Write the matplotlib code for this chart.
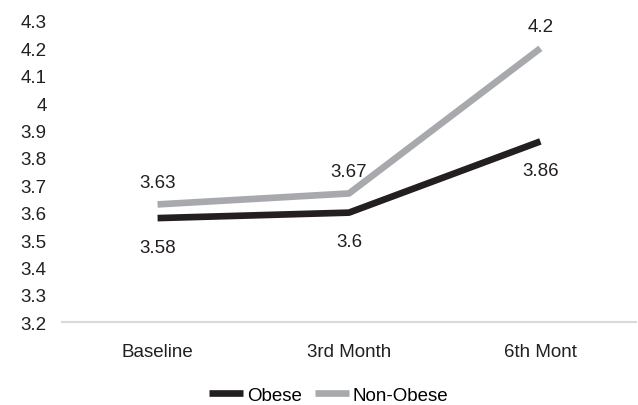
import matplotlib.pyplot as plt

plt.rcParams['font.family'] = ['Liberation Sans', 'DejaVu Sans']

categories = ['Baseline', '3rd Month', '6th Mont']
obese = [3.58, 3.60, 3.86]
non_obese = [3.63, 3.67, 4.20]

fig = plt.figure(figsize=(6.38, 4.06), dpi=100)
ax = fig.add_axes([0.097, 0.204, 0.9, 0.742])

x = range(len(categories))
ax.plot(x, obese, color='#231f20', lw=4.8, solid_capstyle='butt', label='Obese')
ax.plot(x, non_obese, color='#a7a9ac', lw=4.8, solid_capstyle='butt', label='Non-Obese')

fs = 13.5
for i, v in enumerate(non_obese):
    ax.annotate(f'{v:g}', (i, v), xytext=(0, 22), textcoords='offset pixels',
                ha='center', va='center', fontsize=fs, color='#231f20')
for i, v in enumerate(obese):
    ax.annotate(f'{v:g}', (i, v), xytext=(0, -29), textcoords='offset pixels',
                ha='center', va='center', fontsize=fs, color='#231f20')

ax.set_xlim(-0.5, 2.5)
ax.set_ylim(3.2, 4.3)
ax.set_yticks([3.2 + 0.1 * k for k in range(12)])
ax.set_yticklabels([f'{3.2 + 0.1 * k:.1f}'.rstrip('0').rstrip('.') for k in range(12)])
ax.set_xticks(list(x))
ax.set_xticklabels(categories)
ax.tick_params(length=0, labelsize=fs, colors='#231f20')
ax.tick_params(axis='y', pad=11)
ax.tick_params(axis='x', pad=15)

for s in ['top', 'right', 'left']:
    ax.spines[s].set_visible(False)
ax.spines['bottom'].set_color('#d9d9d9')
ax.spines['bottom'].set_linewidth(1.5)

fig.legend(loc='center', bbox_to_anchor=(0.515, 0.024), ncol=2, frameon=False,
           fontsize=fs, handlelength=1.8, handletextpad=0.2, columnspacing=0.7)

fig.savefig('out.png', dpi=100)
